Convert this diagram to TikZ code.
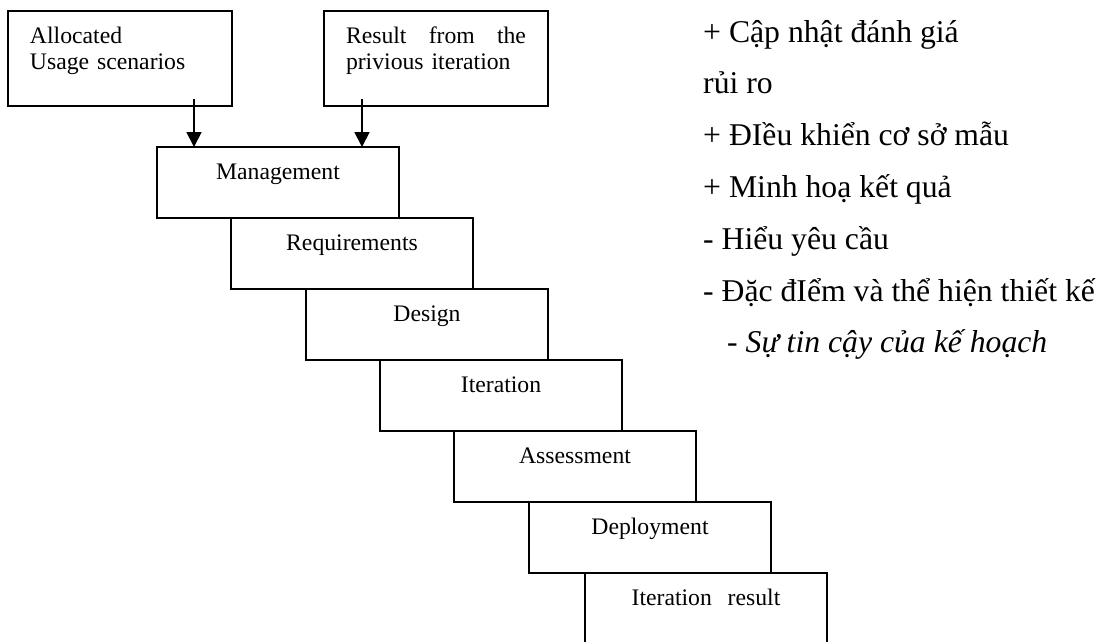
\documentclass[tikz,border=0pt]{standalone}
\usepackage{fontspec}
\setmainfont{Liberation Serif}
\usetikzlibrary{arrows.meta}
\begin{document}
\begin{tikzpicture}[x=1pt,y=-1pt,
  boxfont/.style={font=\fontsize{23.7}{26}\selectfont},
  stage/.style={draw,line width=1.8pt,anchor=north west,outer sep=0pt,inner sep=0pt,
    text width=242pt,align=center,text height=32pt,text depth=39pt,boxfont},
  source/.style={draw,line width=1.8pt,anchor=north west,outer sep=0pt,inner xsep=22pt,inner ysep=0pt,
    text width=180pt,align=left,text height=32pt,text depth=63pt,boxfont},
  note/.style={anchor=base west,inner sep=0pt,font=\fontsize{31.7}{38}\selectfont},
  arr/.style={line width=1.8pt,-{Triangle[width=15pt,length=15pt]}}]
  \clip (0,0) rectangle (1101,641);
  \fill[white] (0,0) rectangle (1101,641);

  % inputs
  \node[source] (alloc) at (8,11) {Allocated\\Usage scenarios};
  \node[source] (prev) at (324,11) {\hbox to \linewidth{Result\hfill from\hfill the}\\privious iteration};

  % staircase of activities
  \node[stage] (mgmt) at (157,147) {Management};
  \node[stage] (req) at (231,218) {Requirements};
  \node[stage] (des) at (306,289) {Design};
  \node[stage] (iter) at (380,360) {Iteration};
  \node[stage] (ass) at (454,431) {Assessment};
  \node[stage] (dep) at (529,502) {Deployment};
  \node[stage,text depth=80pt] (res) at (585,573) {Iteration~~result};

  % input arrows
  \coordinate (a1) at ([xshift=74pt,yshift=7pt]alloc.south);
  \coordinate (a2) at ([xshift=-74pt,yshift=7pt]prev.south);
  \draw[arr] (a1) -- (a1 |- mgmt.north);
  \draw[arr] (a2) -- (a2 |- mgmt.north);

  % notes
  \node[note] (n1) at (703,42) {+ Cập nhật đánh giá};
  \node[note] (n2) at (703,93.8) {rủi ro};
  \node[note] (n3) at (703,145.6) {+ ĐIều khiển cơ sở mẫu};
  \node[note] (n4) at (703,197.4) {+ Minh hoạ kết quả};
  \node[note] (n5) at (703,249.2) {- Hiểu yêu cầu};
  \node[note] (n6) at (703,301) {- Đặc đIểm và thể hiện thiết kế};
  \node[note] (n7) at (727,352.8) {\itshape - Sự tin cậy của kế hoạch};
\end{tikzpicture}
\end{document}
